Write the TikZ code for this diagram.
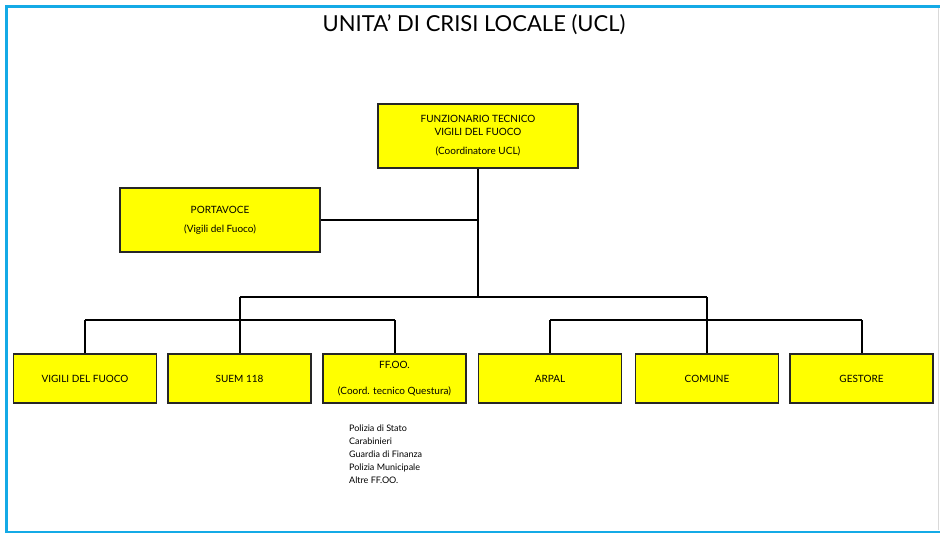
\documentclass[tikz,border=0pt]{standalone}
\usepackage{fontspec}
\setmainfont{Lato}
\usepackage{tikz}
\usetikzlibrary{positioning}
\definecolor{boxyellow}{RGB}{255,255,0}
\definecolor{framecyan}{RGB}{20,170,230}
\tikzset{ubox/.style={draw=black!85, line width=1.5pt, fill=boxyellow,
  minimum width=143pt, minimum height=49pt, inner sep=0pt, align=center,
  font=\fontsize{10}{13}\selectfont},
  link/.style={line width=2pt}}

\begin{document}
\begin{tikzpicture}[x=1pt, y=-1pt]
\useasboundingbox (0,0) rectangle (940,534);
% frame
\draw[framecyan, line width=2.5pt] (940,6.5) -- (6.5,6.5) -- (6.5,532) -- (940,532);
\draw[black!15, line width=0.6pt] (938,8) -- (938,530);
\node (title) at (474,25) {\fontsize{22}{26}\selectfont UNITA' DI CRISI LOCALE (UCL)};

\node[ubox, minimum width=200pt, minimum height=64pt] (coord) at (478,136)
  {FUNZIONARIO TECNICO\\VIGILI DEL FUOCO\\[6pt](Coordinatore UCL)};
\node[ubox, minimum width=200pt, minimum height=64pt] (voce) at (220,220)
  {PORTAVOCE\\[6pt](Vigili del Fuoco)};

\node[ubox] (vvf) at (85,378.5) {VIGILI DEL FUOCO};
\node[ubox] (suem) at (239.5,378.5) {SUEM 118};
\node[ubox] (ffoo) at (394.5,378.5) {FF.OO.\\[13pt](Coord. tecnico Questura)};
\node[ubox] (arpal) at (550,378.5) {ARPAL};
\node[ubox] (comune) at (707,378.5) {COMUNE};
\node[ubox] (gestore) at (861.5,378.5) {GESTORE};

\node[anchor=north west, align=left, inner sep=0pt,
  font=\fontsize{9}{13}\selectfont] (forze) at (349,425)
  {Polizia di Stato\\Carabinieri\\Guardia di Finanza\\Polizia Municipale\\Altre FF.OO.};

% connectors
\coordinate (split) at (478,297);
\coordinate (lbus) at (239.5,297);
\coordinate (rbus) at (707,297);
\coordinate (lbar) at (239.5,320);
\coordinate (rbar) at (707,320);
\draw[link] (coord.south) -- (split);
\draw[link] (voce.east) -- (voce.east -| coord.south);
\draw[link] (lbus) -- (rbus);
\draw[link] (lbus) -- (lbar);
\draw[link] (rbus) -- (rbar);
\draw[link] (vvf.north |- lbar) -- (ffoo.north |- lbar);
\draw[link] (arpal.north |- rbar) -- (gestore.north |- rbar);
\foreach \b/\bar in {vvf/lbar, suem/lbar, ffoo/lbar, arpal/rbar, comune/rbar, gestore/rbar}
  \draw[link] (\b.north) -- (\b.north |- \bar);
\end{tikzpicture}
\end{document}
